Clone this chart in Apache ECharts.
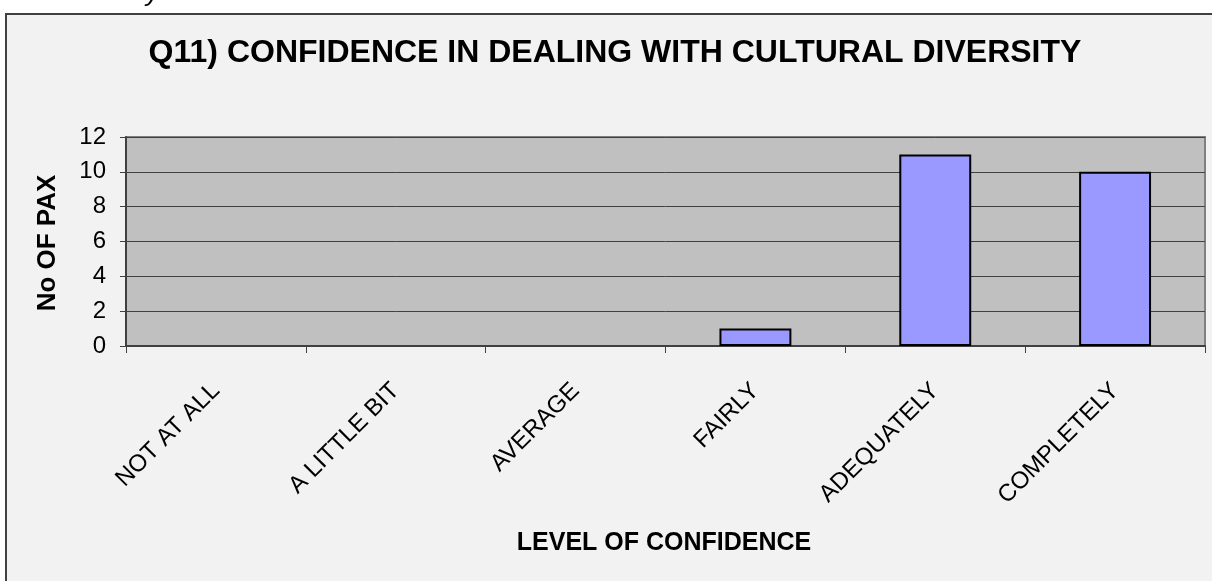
<!DOCTYPE html>
<html>
<head>
<meta charset="utf-8">
<script src="https://cdn.jsdelivr.net/npm/echarts@6/dist/echarts.min.js"></script>
<style>
  html, body { margin: 0; padding: 0; background: #ffffff; }
  #chart { width: 1212px; height: 581px; }
</style>
</head>
<body>
<div id="chart"></div>
<script>
const categories = ['NOT AT ALL', 'A LITTLE BIT', 'AVERAGE', 'FAIRLY', 'ADEQUATELY', 'COMPLETELY'];
const values = [0, 0, 0, 1, 11, 10];
const yTicks = { min: 0, max: 12, interval: 2 };
const titleText = 'Q11) CONFIDENCE IN DEALING WITH CULTURAL DIVERSITY';
const xName = 'LEVEL OF CONFIDENCE';
const yName = 'No OF PAX';

const FONT = '"Liberation Sans", Arial, sans-serif';
const chart = echarts.init(document.getElementById('chart'), null, { renderer: 'canvas' });

const barData = values.map(v => ({
  value: v,
  itemStyle: v === 0 ? { borderWidth: 0, color: 'rgba(0,0,0,0)' } : undefined
}));

chart.setOption({
  backgroundColor: '#ffffff',
  animation: false,
  graphic: [
    {
      type: 'rect', z: -10, silent: true,
      shape: { x: 6, y: 14, width: 1230, height: 620 },
      style: { fill: '#F2F2F2', stroke: '#404040', lineWidth: 2 }
    },
    {
      type: 'text', z: -5, silent: true,
      x: 146, y: 7,
      style: { text: 'y', font: 'italic 26px ' + FONT, fill: '#000', verticalAlign: 'bottom' }
    },
    {
      type: 'text', silent: true,
      x: 615, y: 37,
      style: { text: titleText, font: 'bold 32px ' + FONT, fill: '#000', align: 'center', verticalAlign: 'top' }
    },
    {
      type: 'text', silent: true,
      x: 664, y: 543,
      style: { text: xName, font: 'bold 25px ' + FONT, fill: '#000', align: 'center', verticalAlign: 'middle' }
    },
    {
      type: 'text', silent: true,
      x: 48, y: 243, rotation: Math.PI / 2,
      style: { text: yName, font: 'bold 26px ' + FONT, fill: '#000', align: 'center', verticalAlign: 'middle' }
    }
  ],
  grid: {
    left: 126, right: 7, top: 137, bottom: 235,
    show: true, backgroundColor: '#C0C0C0', borderColor: '#808080', borderWidth: 2
  },
  xAxis: {
    type: 'category',
    data: categories,
    axisLine: { lineStyle: { color: '#404040', width: 2 } },
    axisTick: { show: true, length: 7, alignWithLabel: false, lineStyle: { color: '#404040', width: 1 } },
    axisLabel: { rotate: 45, fontSize: 24, fontFamily: FONT, color: '#000', margin: 41, interval: 0 },
    splitLine: { show: false }
  },
  yAxis: {
    type: 'value',
    min: yTicks.min, max: yTicks.max, interval: yTicks.interval,
    axisLine: { show: true, lineStyle: { color: '#404040', width: 2 } },
    axisTick: { show: true, length: 6, lineStyle: { color: '#404040', width: 1 } },
    axisLabel: { fontSize: 24, fontFamily: FONT, color: '#000', margin: 20 },
    splitLine: { show: true, lineStyle: { color: '#404040', width: 1 } }
  },
  series: [{
    type: 'bar',
    data: barData,
    barWidth: '40%',
    itemStyle: { color: '#9999FF', borderColor: '#000000', borderWidth: 2 }
  }]
});
</script>
</body>
</html>
